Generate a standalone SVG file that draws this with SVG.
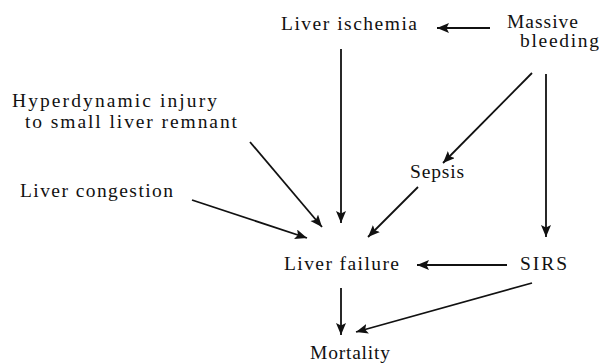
<svg xmlns="http://www.w3.org/2000/svg" width="599" height="364" viewBox="0 0 599 364">
<style>
text{font-family:"Liberation Serif","Times New Roman",serif;font-size:19.5px;fill:#111}
.c line{stroke:#111;stroke-width:1.8;fill:none;marker-end:url(#ah)}
</style>
<defs>
<marker id="ah" markerUnits="userSpaceOnUse" markerWidth="14" markerHeight="12" refX="12" refY="5" orient="auto">
<path d="M0,0 L12,5 L0,10 L2.5,5 z" fill="#111"/>
</marker>
</defs>
<rect width="599" height="364" fill="#fff"/>
<g id="n-ischemia"><text x="281" y="30" textLength="136" lengthAdjust="spacing">Liver ischemia</text></g>
<g id="n-bleeding"><text x="507" y="28" textLength="71" lengthAdjust="spacing">Massive</text><text x="520" y="47" textLength="79" lengthAdjust="spacing">bleeding</text></g>
<g id="n-hyper"><text x="12" y="107" textLength="205" lengthAdjust="spacing">Hyperdynamic injury</text><text x="25" y="128" textLength="212" lengthAdjust="spacing">to small liver remnant</text></g>
<g id="n-congestion"><text x="20" y="197" textLength="153" lengthAdjust="spacing">Liver congestion</text></g>
<g id="n-sepsis"><text x="410" y="178" textLength="54" lengthAdjust="spacing">Sepsis</text></g>
<g id="n-failure"><text x="284" y="270" textLength="115" lengthAdjust="spacing">Liver failure</text></g>
<g id="n-sirs"><text x="520" y="270" textLength="47" lengthAdjust="spacing">SIRS</text></g>
<g id="n-mortality"><text x="310" y="359" textLength="80" lengthAdjust="spacing">Mortality</text></g>
<g id="connectors" class="c">
<line x1="490" y1="28" x2="437" y2="28"/>
<line x1="341" y1="49" x2="341" y2="223"/>
<line x1="532" y1="73" x2="443" y2="163"/>
<line x1="546" y1="74" x2="546" y2="237"/>
<line x1="250" y1="142" x2="322" y2="227"/>
<line x1="192" y1="200" x2="307" y2="238"/>
<line x1="418" y1="187" x2="368" y2="237"/>
<line x1="507" y1="265" x2="417" y2="265"/>
<line x1="341" y1="288" x2="341" y2="335"/>
<line x1="532" y1="283" x2="356" y2="332"/>
</g>
</svg>
